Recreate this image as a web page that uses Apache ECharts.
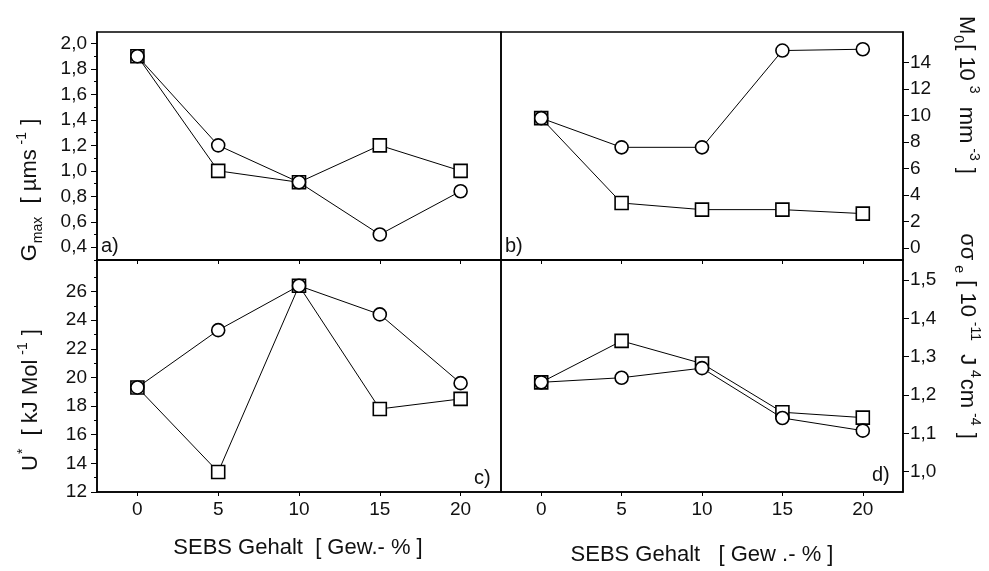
<!DOCTYPE html>
<html>
<head>
<meta charset="utf-8">
<script src="https://cdn.jsdelivr.net/npm/echarts@6/dist/echarts.min.js"></script>
<style>
  html, body { margin: 0; padding: 0; background: #fff; }
  #chart { width: 989px; height: 571px; }
</style>
</head>
<body>
<div id="chart"></div>
<script>
// SEBS content (Gew.-%)
const sebsContent = [0, 5, 10, 15, 20];

// a) maximum growth rate G_max [µm/s]
const gmaxSquare = [1.9, 1.0, 0.91, 1.2, 1.0];
const gmaxCircle = [1.9, 1.2, 0.91, 0.5, 0.84];

// b) nucleus density M0 [10^3 mm^-3]
const m0Circle = [9.8, 7.6, 7.6, 14.9, 15.0];
const m0Square = [9.8, 3.4, 2.9, 2.9, 2.6];

// c) activation energy U* [kJ/mol]
const uCircle = [19.3, 23.3, 26.4, 24.4, 19.6];
const uSquare = [19.3, 13.4, 26.4, 17.8, 18.5];

// d) surface energy product σσe [10^-11 J^4 cm^-4]
const sigmaCircle = [1.233, 1.245, 1.27, 1.14, 1.107];
const sigmaSquare = [1.233, 1.341, 1.282, 1.155, 1.141];

// tick labels
const gmaxTicks = [0.4, 0.6, 0.8, 1.0, 1.2, 1.4, 1.6, 1.8, 2.0];
const gmaxMinorTicks = [0.3, 0.5, 0.7, 0.9, 1.1, 1.3, 1.5, 1.7, 1.9];
const m0Ticks = [0, 2, 4, 6, 8, 10, 12, 14];
const uTicks = [12, 14, 16, 18, 20, 22, 24, 26];
const uMinorTicks = [13, 15, 17, 19, 21, 23, 25, 27];
const sigmaTicks = [1.0, 1.1, 1.2, 1.3, 1.4, 1.5];

const FONT = 'Liberation Sans, Arial, sans-serif';
const INK = '#111';

const pair = (xs, ys) => xs.map((x, i) => [x, ys[i]]);
const comma = v => v.toFixed(1).replace('.', ',');

const grids = [
  { left: 97, top: 32, width: 404, height: 228 },
  { left: 501, top: 32, width: 402, height: 228 },
  { left: 97, top: 260, width: 404, height: 232 },
  { left: 501, top: 260, width: 402, height: 232 }
].map(g => Object.assign(g, { show: true, borderColor: '#000', borderWidth: 1.5, backgroundColor: 'transparent' }));

function xAxis(gridIndex, labels) {
  return {
    type: 'value', gridIndex, min: -2.5, max: 22.5,
    axisLine: { show: true, onZero: false, lineStyle: { color: '#000', width: 1.5 } },
    axisTick: { show: true, customValues: sebsContent, length: 4, lineStyle: { color: '#000' } },
    axisLabel: { show: labels, customValues: sebsContent, margin: 8, fontSize: 19, fontFamily: FONT, color: INK },
    splitLine: { show: false }
  };
}

function yAxis(gridIndex, position, min, max, ticks, fmt, tickLen) {
  return {
    type: 'value', gridIndex, position, min, max,
    axisLine: { show: true, onZero: false, lineStyle: { color: '#000', width: 1.5 } },
    axisTick: { show: true, customValues: ticks, length: tickLen, lineStyle: { color: '#000' } },
    axisLabel: { show: true, customValues: ticks, formatter: fmt, margin: position === 'left' ? 10 : 7,
                 fontSize: 19, fontFamily: FONT, color: INK },
    splitLine: { show: false }
  };
}

function minorAxis(gridIndex, position, min, max, ticks) {
  return {
    type: 'value', gridIndex, position, min, max,
    axisLine: { show: false, onZero: false },
    axisTick: { show: true, customValues: ticks, length: 3, lineStyle: { color: '#000' } },
    axisLabel: { show: false },
    splitLine: { show: false }
  };
}

function series(xAxisIndex, yAxisIndex, ys, symbol) {
  return {
    type: 'line', xAxisIndex, yAxisIndex,
    data: pair(sebsContent, ys),
    symbol, symbolSize: 13, showAllSymbol: true,
    lineStyle: { color: '#000', width: 1 },
    itemStyle: { color: '#fff', borderColor: '#000', borderWidth: 1.6 },
    z: symbol === 'rect' ? 3 : 4,
    animation: false
  };
}

const base = { fontSize: 22, fontFamily: FONT, color: INK, lineHeight: 30, verticalAlign: 'middle' };
const sub = { fontSize: 14, fontFamily: FONT, color: INK, lineHeight: 30, verticalAlign: 'bottom', padding: [0, 1, 0, 1] };
const sup = { fontSize: 14, fontFamily: FONT, color: INK, lineHeight: 30, verticalAlign: 'top', padding: [0, 1, 0, 1] };
const rich = { b: base, sub, sup };

function label(x, y, rotation, text) {
  return {
    type: 'text', x, y, rotation, silent: true,
    style: { text, rich, align: 'center', verticalAlign: 'middle', font: '22px ' + FONT, fill: INK }
  };
}

function plain(x, y, text, align, size) {
  return {
    type: 'text', x, y, silent: true,
    style: { text, align: align || 'left', verticalAlign: 'middle', font: (size || 20) + 'px ' + FONT, fill: INK }
  };
}

const option = {
  backgroundColor: '#fff',
  animation: false,
  grid: grids,
  xAxis: [xAxis(0, false), xAxis(1, false), xAxis(2, true), xAxis(3, true)],
  yAxis: [
    yAxis(0, 'left', 0.3, 2.09, gmaxTicks, comma, 6),
    yAxis(1, 'right', -0.9, 16.3, m0Ticks, v => String(v), 6),
    yAxis(2, 'left', 12, 28.2, uTicks, v => String(v), 6),
    yAxis(3, 'right', 0.947, 1.552, sigmaTicks, comma, 6),
    minorAxis(0, 'left', 0.3, 2.09, gmaxMinorTicks),
    minorAxis(2, 'left', 12, 28.2, uMinorTicks)
  ],
  series: [
    series(0, 0, gmaxSquare, 'rect'),
    series(0, 0, gmaxCircle, 'circle'),
    series(1, 1, m0Square, 'rect'),
    series(1, 1, m0Circle, 'circle'),
    series(2, 2, uSquare, 'rect'),
    series(2, 2, uCircle, 'circle'),
    series(3, 3, sigmaSquare, 'rect'),
    series(3, 3, sigmaCircle, 'circle')
  ],
  graphic: [
    label(30, 190, Math.PI / 2, '{b|G}{sub|max}{b|  [ µms}{sup| -1}{b| ]}'),
    label(31, 400, Math.PI / 2, '{b|U}{sup|*}{b|  [ kJ Mol}{sup| -1}{b| ]}'),
    label(966, 95, -Math.PI / 2, '{b|M}{sub|0}{b|[ 10}{sup| 3}{b|  mm}{sup| -3}{b| ]}'),
    label(967, 336, -Math.PI / 2, '{b|σσ}{sub| e}{b| [ 10}{sup| -11}{b|  J}{sup| 4}{b|cm}{sup| -4}{b| ]}'),
    plain(298, 548, 'SEBS Gehalt  [ Gew.- % ]', 'center', 22),
    plain(702, 555, 'SEBS Gehalt   [ Gew .- % ]', 'center', 22),
    plain(101, 246, 'a)'),
    plain(505, 246, 'b)'),
    plain(474, 478, 'c)'),
    plain(872, 475, 'd)')
  ]
};

const chart = echarts.init(document.getElementById('chart'), null, { renderer: 'canvas' });
chart.setOption(option);
</script>
</body>
</html>
